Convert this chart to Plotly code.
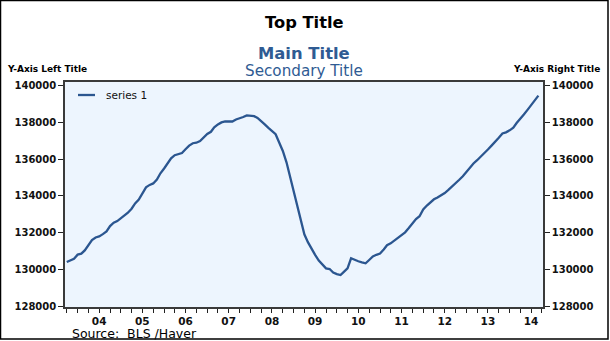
import pandas as pd
import plotly.graph_objects as go

# Monthly nonfarm payroll employment (thousands), Oct 2003 - Sep 2014
start_month = "2003-10-01"
series_name = "series 1"
payrolls = [
    130420, 130510, 130600,
    # 2004
    130820, 130870, 131050, 131330, 131610, 131750, 131810, 131930, 132080, 132370, 132550, 132640,
    # 2005
    132800, 132910, 133090, 133310, 133595, 133800, 134100, 134470, 134600, 134680, 134890, 135230,
    # 2006
    135490, 135760, 136040, 136210, 136290, 136330, 136530, 136730, 136860, 136890, 136980, 137180,
    # 2007
    137360, 137480, 137720, 137880, 137990, 138050, 138030, 138040, 138150, 138200, 138280, 138370,
    # 2008
    138360, 138330, 138230, 138070, 137880, 137690, 137510, 137350, 136890, 136440, 135825, 135040,
    # 2009
    134140, 133330, 132620, 131920, 131495, 131130, 130810, 130500, 130275, 130075, 130040, 129850,
    # 2010
    129760, 129710, 129880, 130075, 130620, 130530, 130460, 130400, 130350, 130530, 130720, 130810,
    # 2011
    130880, 131100, 131330, 131430, 131570, 131750, 131860, 132030, 132260, 132480, 132750, 132900,
    # 2012
    133270, 133480, 133670, 133820, 133920, 134030, 134160, 134330, 134500, 134690, 134880, 135070,
    # 2013
    135320, 135570, 135760, 135940, 136120, 136320, 136520, 136730, 136930, 137160, 137390, 137450,
    # 2014
    137560, 137700, 137955, 138175, 138420, 138670, 138935, 139200, 139440,
]
dates = pd.date_range(start_month, periods=len(payrolls), freq="MS")

x_range = ["2003-09-16", "2014-10-10"]

# Quarterly ticks; the two-digit year label sits on the mid-year tick
x_tickvals = []
x_ticktext = []
for yr in range(2003, 2015):
    for mo in (1, 4, 7, 10):
        d = pd.Timestamp(yr, mo, 1)
        if pd.Timestamp(x_range[0]) <= d <= pd.Timestamp(x_range[1]):
            x_tickvals.append(d)
            x_ticktext.append(f"{yr % 100:02d}" if mo == 7 else "")

y_range = [127980, 140180]
y_dtick = 2000

FONT = "DejaVu Sans, Verdana, sans-serif"
LINE_BLUE = "#2B5690"
TITLE_BLUE = "#2F5B93"

W, H = 610, 341
ML, MR, MT, MB = 65, 67, 82, 34
PW, PH = W - ML - MR, H - MT - MB


def px(x):
    return (x - ML) / PW


def py(y):
    return (H - MB - y) / PH


fig = go.Figure()
fig.add_trace(go.Scatter(
    x=dates, y=payrolls, mode="lines", name=series_name,
    line=dict(color=LINE_BLUE, width=2.3), showlegend=False,
))
# invisible companion trace so the right-hand axis is drawn
fig.add_trace(go.Scatter(
    x=dates[:1], y=payrolls[:1], yaxis="y2", mode="lines",
    line=dict(width=0), hoverinfo="skip", showlegend=False,
))

axis_common = dict(
    showline=True, linecolor="#3a3a3a", linewidth=1.5,
    ticks="outside", tickcolor="#222", tickwidth=1.2,
    showgrid=False, zeroline=False,
)
ytick_font = dict(family=FONT, size=10, color="#111", weight="bold")
xtick_font = dict(family=FONT, size=10.5, color="#111", weight="bold")

fig.update_layout(
    width=W, height=H,
    margin=dict(l=ML, r=MR, t=MT, b=MB),
    paper_bgcolor="white",
    plot_bgcolor="#EDF5FE",
    showlegend=False,
    xaxis=dict(
        type="date", range=x_range,
        tickmode="array", tickvals=x_tickvals, ticktext=x_ticktext,
        ticklen=4, mirror=True, tickfont=xtick_font, **axis_common,
    ),
    yaxis=dict(
        range=y_range, dtick=y_dtick, tick0=128000, ticklen=5,
        tickformat="d", mirror=True, tickfont=ytick_font, **axis_common,
    ),
    yaxis2=dict(
        range=y_range, dtick=y_dtick, tick0=128000, ticklen=5,
        tickformat="d", overlaying="y", side="right", anchor="x",
        tickfont=ytick_font, **axis_common,
    ),
)

annotations = [
    dict(text="<b>Top Title</b>", x=0.5, y=py(22), font=dict(size=16.3, color="black")),
    dict(text="<b>Main Title</b>", x=0.5, y=py(53), font=dict(size=16.4, color=TITLE_BLUE)),
    dict(text="Secondary Title", x=0.5, y=py(71), font=dict(size=15.2, color=TITLE_BLUE)),
    dict(text="<b>Y-Axis Left Title</b>", x=px(5), y=py(69), xanchor="left",
         font=dict(size=9, color="black")),
    dict(text="<b>Y-Axis Right Title</b>", x=px(602), y=py(69), xanchor="right",
         font=dict(size=9, color="black")),
    dict(text="Source:\u00a0\u00a0BLS /Haver", x=px(70), y=py(333), xanchor="left",
         font=dict(size=12.5, color="black")),
    dict(text=series_name, x=px(104), y=py(95), xanchor="left",
         font=dict(size=10.5, color="#111")),
]
for a in annotations:
    a.setdefault("xanchor", "center")
    a["font"]["family"] = FONT
    fig.add_annotation(xref="paper", yref="paper", yanchor="middle",
                       showarrow=False, **a)

shapes = [
    # legend key
    dict(type="line", x0=px(78), x1=px(95), y0=py(95), y1=py(95),
         line=dict(color=LINE_BLUE, width=2.3)),
    # outer frame
    dict(type="rect", x0=px(0.5), x1=px(W - 2), y0=py(H - 2), y1=py(0.5),
         line=dict(color="black", width=1.5)),
]
for s in shapes:
    fig.add_shape(xref="paper", yref="paper", layer="above", **s)

fig.write_html("out.html")
